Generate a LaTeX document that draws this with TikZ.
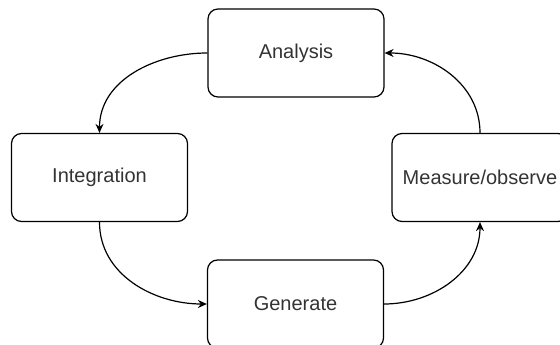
\documentclass[tikz,border=0pt]{standalone}
\usepackage{fontspec}
\setmainfont{Liberation Sans}
\usetikzlibrary{arrows.meta}

\begin{document}
\begin{tikzpicture}[x=1pt,y=1pt,
    box/.style={draw,rounded corners=10pt,minimum width=176pt,minimum height=88pt,
                line width=1.2pt,text=black!80,font=\fontsize{20}{24}\selectfont},
    >={Stealth[length=9pt,width=8pt]},
    line width=1.2pt]
    \useasboundingbox (0,0) rectangle (560,345);

    \node[box] (analysis) at (296,292) {Analysis};
    \node[box] (integ) at (99.5,167.5) {Integration};
    \node[box] (measure) at (480,167.5) {Measure/observe};
    \node[box] (generate) at (295.5,41) {Generate};

    \draw[->] (analysis.west) to[out=180,in=90] (integ.north) ;
    \draw[->] (integ.south) to[out=-90,in=180] (generate.west) ;
    \draw[->] (generate.east) to[out=0,in=-90] (measure.south) ;
    \draw[->] (measure.north) to[out=90,in=0] (analysis.east) ;
\end{tikzpicture}
\end{document}
